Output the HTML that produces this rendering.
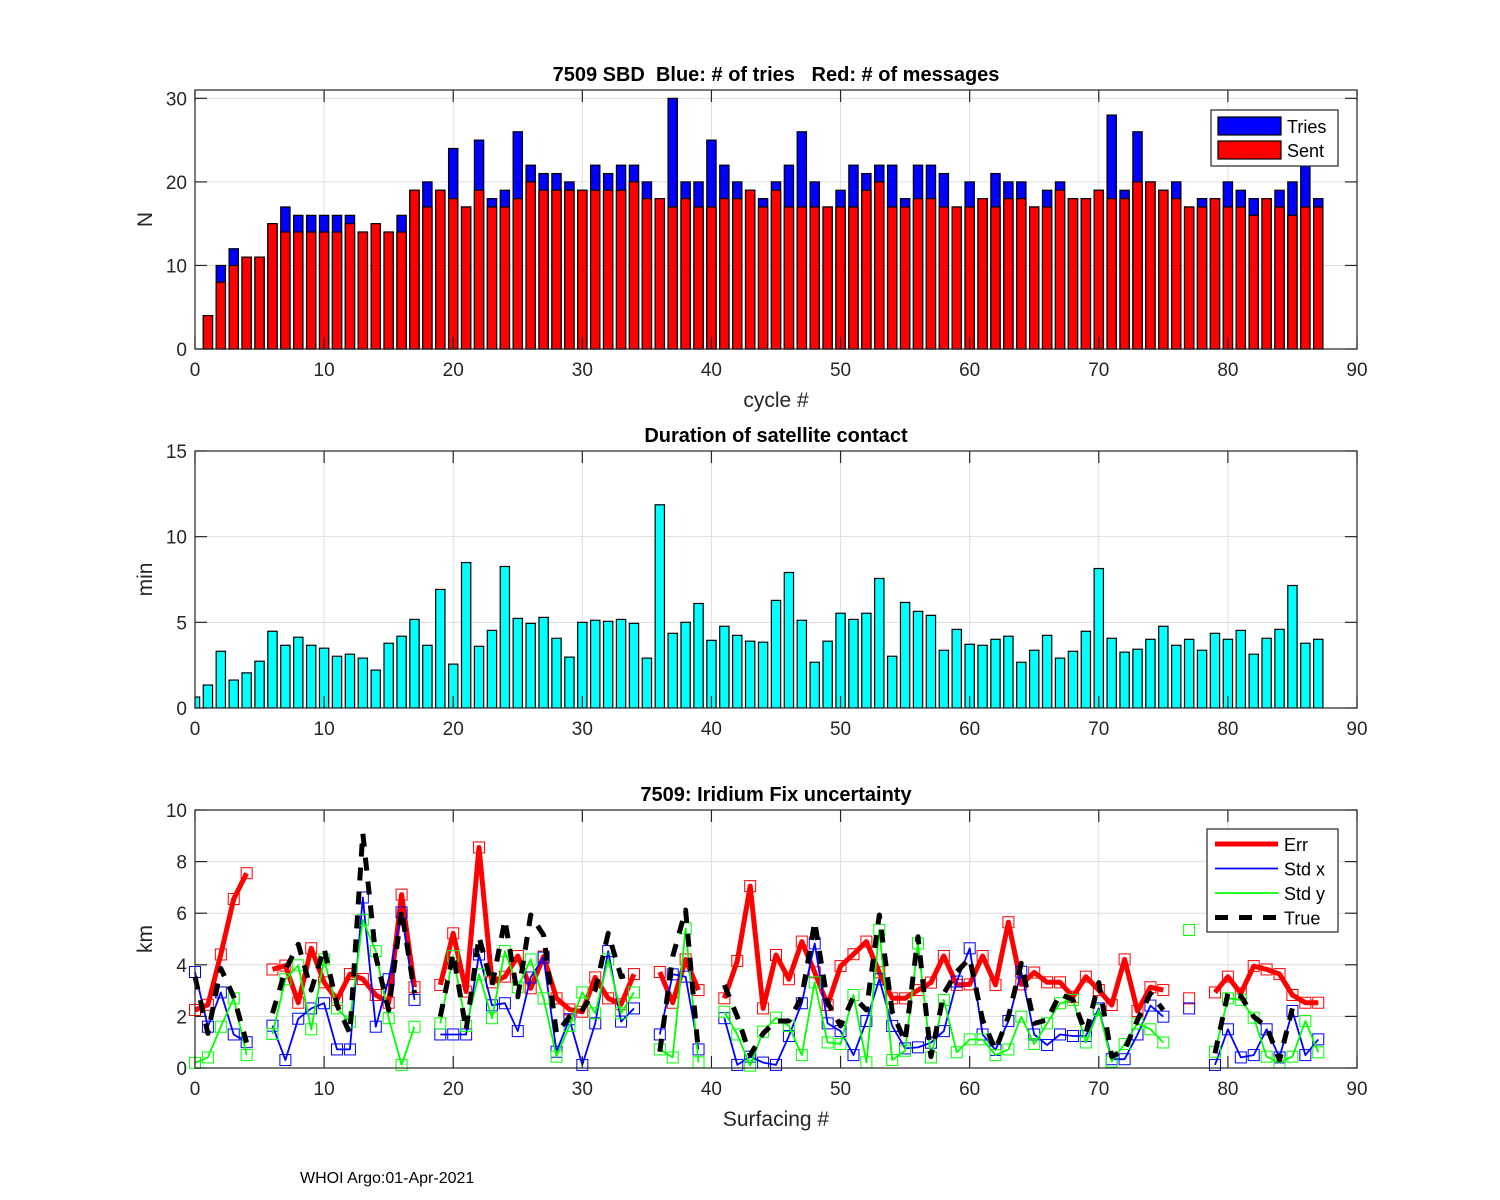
<!DOCTYPE html>
<html><head><meta charset="utf-8">
<style>
html,body{margin:0;padding:0;background:#fff;}
svg{display:block;font-family:"Liberation Sans",Arial,sans-serif;}
</style></head>
<body>
<svg id="fig" width="1500" height="1200" viewBox="0 0 1500 1200" xmlns="http://www.w3.org/2000/svg">
<rect width="1500" height="1200" fill="#fff"/>
<g id="g1"></g>
<g id="g2"></g>
<g id="g3"></g>
<text x="300" y="1183" font-size="16" fill="#000">WHOI Argo:01-Apr-2021</text>
</svg>
<script>
// ---- data ----
const cycles = Array.from({length:87},(_,i)=>i+1);
const triesN = [4,10,12,11,11,15,17,16,16,16,16,16,14,15,14,16,19,20,19,24,17,25,18,19,26,22,21,21,20,19,22,21,22,22,20,18,30,20,20,25,22,20,19,18,20,22,26,20,17,19,22,21,22,22,18,22,22,21,17,20,18,21,20,20,17,19,20,18,18,19,28,19,26,20,19,20,17,18,18,20,19,18,18,19,20,22,18];
const sentN = [4,8,10,11,11,15,14,14,14,14,14,15,14,15,14,14,19,17,19,18,17,19,17,17,18,20,19,19,19,19,19,19,19,20,18,18,17,18,17,17,18,18,19,17,19,17,17,17,17,17,17,19,20,17,17,18,18,17,17,17,18,17,18,18,17,17,19,18,18,19,18,18,20,20,19,18,17,17,18,17,17,16,18,17,16,17,17];
const durCycles = Array.from({length:88},(_,i)=>i);
const durationMin = [0.64,1.34,3.31,1.63,2.05,2.73,4.48,3.66,4.13,3.66,3.49,3.02,3.14,2.91,2.21,3.78,4.19,5.17,3.66,6.92,2.56,8.49,3.6,4.53,8.26,5.23,4.94,5.29,4.07,2.97,5.0,5.12,5.06,5.17,4.94,2.91,11.86,4.36,5.0,6.1,3.95,4.77,4.24,3.9,3.84,6.28,7.91,5.12,2.67,3.9,5.53,5.17,5.53,7.56,3.02,6.16,5.64,5.41,3.37,4.59,3.72,3.66,4.01,4.19,2.67,3.37,4.24,2.91,3.31,4.48,8.14,4.07,3.26,3.43,4.01,4.77,3.66,4.01,3.37,4.36,4.01,4.53,3.14,4.07,4.59,7.15,3.78,4.01];
const surf = Array.from({length:88},(_,i)=>i);
const N=null;
const errKm = [2.25,2.45,4.4,6.55,7.55,N,3.82,3.97,2.53,4.64,3.32,2.64,3.64,3.45,2.83,2.53,6.72,3.13,N,3.22,5.22,2.96,8.55,3.32,3.54,4.34,3.09,4.32,2.7,2.27,2.18,3.51,2.7,2.47,3.64,N,3.72,2.53,4.21,3.02,N,2.7,4.15,7.05,2.31,4.38,3.44,4.9,3.71,2.44,3.95,4.41,4.9,3.71,2.7,2.7,3.02,3.31,4.34,3.22,3.24,4.34,3.22,5.65,3.24,3.7,3.32,3.32,2.76,3.54,3.02,2.44,4.21,2.21,3.13,3.02,N,2.7,N,2.93,3.54,2.89,3.95,3.82,3.64,2.83,2.53,2.53];
const stdX = [3.72,1.6,2.93,1.3,1.0,N,1.64,0.31,1.91,2.31,2.51,0.72,0.72,6.61,1.6,3.44,6.03,2.64,N,1.3,1.3,1.3,4.4,2.43,2.51,1.43,3.51,4.28,0.63,1.89,0.12,1.73,4.53,1.8,2.31,N,1.3,3.63,3.54,0.72,N,1.93,0.12,0.44,0.21,0.12,1.24,2.51,4.83,1.73,1.43,0.5,1.82,3.44,1.63,0.76,0.8,0.98,1.43,3.35,4.64,1.3,0.7,1.82,3.73,1.3,0.89,1.3,1.24,1.24,2.31,0.34,0.34,1.3,2.42,1.99,N,2.31,N,0.12,1.5,0.41,0.5,1.5,0.41,2.21,0.5,1.11];
const stdY = [0.2,0.41,1.6,2.7,0.5,N,1.32,3.44,3.98,1.5,4.21,2.31,1.8,5.74,4.53,1.93,0.12,1.6,N,1.73,4.34,1.63,3.63,1.93,4.53,3.13,4.21,2.7,0.44,1.63,2.93,2.12,4.21,2.12,2.93,N,0.72,0.41,5.41,0.22,N,2.18,1.3,0.09,1.41,1.95,1.63,0.5,3.32,0.99,0.93,2.83,0.22,5.35,0.31,0.67,4.83,0.41,2.64,0.61,1.11,1.11,0.5,0.72,1.99,0.93,1.73,2.51,2.64,0.99,2.25,0.25,0.93,1.73,1.5,0.99,N,5.35,N,0.63,2.7,2.64,1.95,0.44,0.21,0.44,1.82,0.61];
const trueKm = [3.54,1.34,3.86,2.76,0.98,N,2.12,3.8,4.8,3.02,4.64,2.44,1.34,9.1,4.32,2.25,6.12,2.9,N,1.99,4.44,1.47,5.09,3.19,5.74,2.76,5.93,5.15,1.34,1.99,2.25,3.02,5.22,3.54,3.67,N,0.63,4.32,6.12,0.57,N,3.22,1.99,0.5,1.34,1.82,1.82,2.76,5.67,2.53,1.63,2.76,2.25,5.93,2.18,1.02,5.09,0.44,2.89,3.73,4.25,1.86,0.7,1.99,4.06,1.73,1.86,2.87,2.64,1.34,3.31,0.44,0.7,1.86,2.89,2.25,N,N,N,0.57,2.89,2.79,1.99,1.6,0.31,2.31,N,N];
const xTicks = [0,10,20,30,40,50,60,70,80,90];
const yTicks1 = [0,10,20,30];
const yTicks2 = [0,5,10,15];
const yTicks3 = [0,2,4,6,8,10];

const NS="http://www.w3.org/2000/svg";
function mk(parent,tag,attrs,name,inter){
  const e=document.createElementNS(NS,tag);
  for(const k in attrs) e.setAttribute(k,attrs[k]);
  
  
  parent.appendChild(e); return e;
}
const L=195,R=1357;
function axes(g,top,bot,ymin,ymax,yt,title,xlabel,ylabel,prefix){
  const sx=v=>L+(v-0)/90*(R-L);
  const sy=v=>bot-(v-ymin)/(ymax-ymin)*(bot-top);
  xTicks.forEach(t=>{ if(t>0&&t<90) mk(g,'line',{x1:sx(t),x2:sx(t),y1:top,y2:bot,stroke:'#dedede','stroke-width':1},prefix+'-x-gridline'); });
  yt.forEach(t=>{ const y=sy(t); if(y>top+1&&y<bot-1) mk(g,'line',{x1:L,x2:R,y1:y,y2:y,stroke:'#dedede','stroke-width':1},prefix+'-y-gridline'); });
  return {sx,sy,top,bot};
}
function frame(g,ax,yt,title,xlabel,ylabel,prefix){
  const {sx,sy,top,bot}=ax;
  mk(g,'rect',{x:L,y:top,width:R-L,height:bot-top,fill:'none',stroke:'#262626','stroke-width':1.2},prefix+'-axes-box');
  xTicks.forEach(t=>{
    mk(g,'line',{x1:sx(t),x2:sx(t),y1:bot,y2:bot-12,stroke:'#262626','stroke-width':1.2},prefix+'-x-tick');
    mk(g,'line',{x1:sx(t),x2:sx(t),y1:top,y2:top+12,stroke:'#262626','stroke-width':1.2},prefix+'-x-tick-top');
    const tx=mk(g,'text',{x:sx(t),y:bot+27,'font-size':19,'text-anchor':'middle',fill:'#262626'},prefix+'-x-tick-label');tx.textContent=t;
  });
  yt.forEach(t=>{
    mk(g,'line',{x1:L,x2:L+12,y1:sy(t),y2:sy(t),stroke:'#262626','stroke-width':1.2},prefix+'-y-tick');
    mk(g,'line',{x1:R,x2:R-12,y1:sy(t),y2:sy(t),stroke:'#262626','stroke-width':1.2},prefix+'-y-tick-right');
    const tx=mk(g,'text',{x:L-8,y:sy(t)+7,'font-size':19,'text-anchor':'end',fill:'#262626'},prefix+'-y-tick-label');tx.textContent=t;
  });
  const ti=mk(g,'text',{x:(L+R)/2,y:top-9,'font-size':20,'font-weight':'bold','text-anchor':'middle',fill:'#000',style:'white-space:pre'},prefix+'-title');ti.textContent=title;
  if(xlabel){const xl=mk(g,'text',{x:(L+R)/2,y:bot+58,'font-size':21,'text-anchor':'middle',fill:'#262626'},prefix+'-x-axis-title');xl.textContent=xlabel;}
  const cy=(top+bot)/2;
  const yl=mk(g,'text',{x:152,y:cy,'font-size':21,'text-anchor':'middle',fill:'#262626',transform:`rotate(-90 152 ${cy})`},prefix+'-y-axis-title');yl.textContent=ylabel;
}
// ---- chart 1 ----
const g1=document.getElementById('g1');
const a1=axes(g1,90,349,0,31,yTicks1,'','','','msg');
const bw=0.72*(R-L)/90;
cycles.forEach((c,i)=>{
  mk(g1,'rect',{x:a1.sx(c)-bw/2,y:a1.sy(triesN[i]),width:bw,height:a1.sy(0)-a1.sy(triesN[i]),fill:'#0000ff',stroke:'#000','stroke-width':1.2},'tries-bar');
});
cycles.forEach((c,i)=>{
  mk(g1,'rect',{x:a1.sx(c)-bw/2,y:a1.sy(sentN[i]),width:bw,height:a1.sy(0)-a1.sy(sentN[i]),fill:'#ff0000',stroke:'#000','stroke-width':1.2},'sent-bar');
});
frame(g1,a1,yTicks1,'7509 SBD  Blue: # of tries   Red: # of messages','cycle #','N','msg');
const lg1=mk(g1,'g',{},'legend',false);
mk(lg1,'rect',{x:1211,y:110,width:127,height:56,fill:'#fff',stroke:'#262626','stroke-width':1.2},'legend-box');
mk(lg1,'rect',{x:1218,y:117,width:63,height:18,fill:'#0000ff',stroke:'#000','stroke-width':1.2},'legend-tries-swatch');
mk(lg1,'rect',{x:1218,y:141,width:63,height:18,fill:'#ff0000',stroke:'#000','stroke-width':1.2},'legend-sent-swatch');
let t=mk(lg1,'text',{x:1287,y:133,'font-size':18,fill:'#000'},'legend-tries-label');t.textContent='Tries';
t=mk(lg1,'text',{x:1287,y:157,'font-size':18,fill:'#000'},'legend-sent-label');t.textContent='Sent';
// ---- chart 2 ----
const g2=document.getElementById('g2');
const a2=axes(g2,451,708,0,15,yTicks2,'','','','dur');
const clip=mk(g2,'clipPath',{id:'c2'},'clip-region');
mk(clip,'rect',{x:L,y:451,width:R-L,height:257},'clip-rect');
const bg2=mk(g2,'g',{'clip-path':'url(#c2)'},'duration-bars');
durCycles.forEach((c,i)=>{
  mk(bg2,'rect',{x:a2.sx(c)-bw/2,y:a2.sy(durationMin[i]),width:bw,height:a2.sy(0)-a2.sy(durationMin[i]),fill:'#00ffff',stroke:'#000','stroke-width':1.2},'duration-bar');
});
frame(g2,a2,yTicks2,'Duration of satellite contact','','min','dur');
// ---- chart 3 ----
const g3=document.getElementById('g3');
const a3=axes(g3,810,1068,0,10,yTicks3,'','','','fix');
function series(arr,color,w,dash,markers,name){
  const sg=mk(g3,'g',{},name+'-series');
  let seg=[];
  const flush=()=>{ if(seg.length>1){ mk(sg,'polyline',{points:seg.join(' '),fill:'none',stroke:color,'stroke-width':w,'stroke-linejoin':'round','stroke-dasharray':dash||'none'},name+'-line'); } seg=[]; };
  arr.forEach((v,i)=>{ if(v===null){flush();return;} seg.push(a3.sx(surf[i]).toFixed(1)+','+a3.sy(v).toFixed(1)); });
  flush();
  if(markers) arr.forEach((v,i)=>{ if(v===null)return;
    mk(sg,'rect',{x:a3.sx(surf[i])-5.5,y:a3.sy(v)-5.5,width:11,height:11,fill:'none',stroke:color,'stroke-width':1},name+'-marker'); });
}
series(errKm,'#ff0000',5,null,true,'err');
series(stdX,'#0000ff',1.8,null,true,'std-x');
series(stdY,'#00ff00',1.8,null,true,'std-y');
series(trueKm,'#000000',5,'13,11',false,'true');
frame(g3,a3,yTicks3,'7509: Iridium Fix uncertainty','Surfacing #','km','fix');
const lg3=mk(g3,'g',{},'legend',false);
mk(lg3,'rect',{x:1207,y:829,width:131,height:103,fill:'#fff',stroke:'#262626','stroke-width':1.2},'legend-box');
const leg=[['Err','#ff0000',5,null],['Std x','#0000ff',1.8,null],['Std y','#00ff00',1.8,null],['True','#000',5,'13,11']];
leg.forEach((d,i)=>{
  const y=844+i*24.5;
  mk(lg3,'line',{x1:1215,x2:1278,y1:y,y2:y,stroke:d[1],'stroke-width':d[2],'stroke-dasharray':d[3]||'none'},'legend-entry-line');
  const tt=mk(lg3,'text',{x:1284,y:y+7,'font-size':18,fill:'#000'},'legend-entry-label');tt.textContent=d[0];
});
</script>
</body></html>
